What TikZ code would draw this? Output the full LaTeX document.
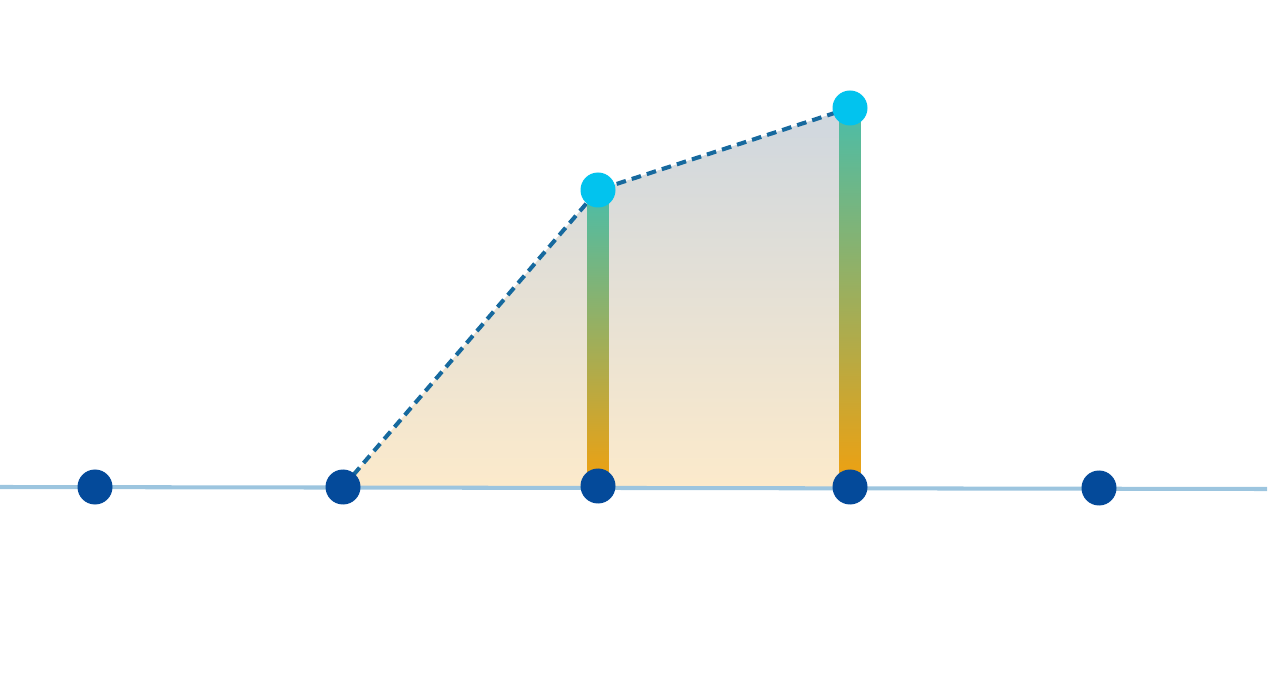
\documentclass[tikz,border=0pt]{standalone}
\usepackage{tikz}
\usetikzlibrary{arrows}
\usepackage{xcolor}

\definecolor{axisblue}{HTML}{9CC5DF}
\definecolor{dotblue}{HTML}{044A9A}
\definecolor{topcyan}{HTML}{02C3EE}
\definecolor{dashblue}{HTML}{16699E}
\definecolor{barorange}{HTML}{F1A00E}
\definecolor{barteal}{HTML}{4ABDA9}
\definecolor{fillbot}{HTML}{FCEACB}
\definecolor{filltop}{HTML}{CFD7DF}

\tikzset{
  dot/.style={circle,fill=dotblue,inner sep=0pt,minimum size=35*0.02cm},
  topdot/.style={circle,fill=topcyan,inner sep=0pt,minimum size=35*0.02cm},
}

\begin{document}
\begin{tikzpicture}[x=0.02cm,y=-0.02cm]
\useasboundingbox (0,0) rectangle (1269,689);

\coordinate (l) at (0,487);
\coordinate (r) at (1267,489);

% points on the line and the two raised ones
\coordinate (p1) at (95,487);
\coordinate (p2) at (343,487);
\coordinate (p3) at (598,486);
\coordinate (p4) at (850,487);
\coordinate (p5) at (1099,488);
\coordinate (q3) at (598,190);
\coordinate (q4) at (850,108);

\shade[bottom color=fillbot,top color=filltop] (p2) -- (q3) -- (q4) -- (p4) -- cycle;

\draw[axisblue,line width=2.3pt] (l) -- (r);

\draw[dashblue,line width=2.3pt,dash pattern=on 5.5pt off 3.5pt] (p2) -- (q3) -- (q4);

\shade[bottom color=barorange,top color=barteal] ([xshift=-0.21cm]p3) rectangle ([xshift=0.21cm]q3);
\shade[bottom color=barorange,top color=barteal] ([xshift=-0.21cm]p4) rectangle ([xshift=0.21cm]q4);

\node[dot] (a) at (p1) {};
\node[dot] (b) at (p2) {};
\node[dot] (c) at (p3) {};
\node[dot] (d) at (p4) {};
\node[dot] (e) at (p5) {};
\node[topdot] (c') at (q3) {};
\node[topdot] (d') at (q4) {};

\end{tikzpicture}
\end{document}
